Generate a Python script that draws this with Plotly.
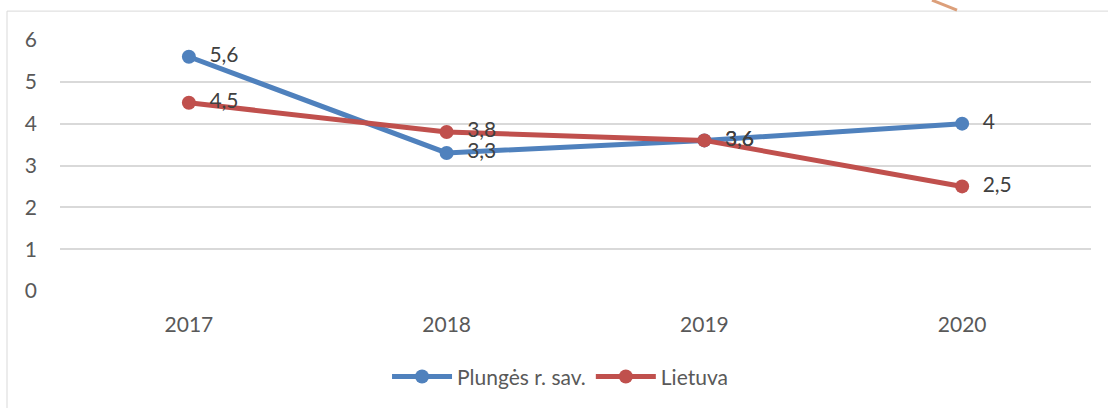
import plotly.graph_objects as go

years = ["2017", "2018", "2019", "2020"]
plunges = [5.6, 3.3, 3.6, 4.0]
lietuva = [4.5, 3.8, 3.6, 2.5]
series_names = ["Plungės r. sav.", "Lietuva"]
y_ticks = [0, 1, 2, 3, 4, 5, 6]

colors = ["#4F81BD", "#C0504D"]
FONT = "Lato"
FS = 21


def fmt(v):
    return f"{v:g}".replace(".", ",")


fig = go.Figure()
for name, vals, col in zip(series_names, [plunges, lietuva], colors):
    fig.add_trace(go.Scatter(
        x=years, y=vals, name=name, mode="lines+markers+text",
        line=dict(color=col, width=5),
        marker=dict(color=col, size=14),
        text=["  " + fmt(v) for v in vals],
        textposition="middle right",
        textfont=dict(family=FONT, size=FS, color="#404040"),
        cliponaxis=False,
    ))

fig.update_layout(
    width=1108, height=408,
    margin=dict(l=60, r=17, t=40, b=116),
    paper_bgcolor="white", plot_bgcolor="white",
    showlegend=True,
    legend=dict(orientation="h", x=0.485, xanchor="center", y=-0.337, yanchor="middle",
                font=dict(family=FONT, size=FS, color="#595959"),
                itemwidth=60, tracegroupgap=0, traceorder="normal"),
    font=dict(family=FONT, size=FS, color="#595959"),
)
fig.update_xaxes(type="category", range=[-0.5, 3.5], showgrid=False, showline=False,
                 ticks="", tickfont=dict(family=FONT, size=FS, color="#595959"),
                 ticklabelstandoff=19, zeroline=False)
fig.update_yaxes(range=[0, 6], tickvals=y_ticks, showgrid=True, gridcolor="#D9D9D9",
                 gridwidth=1.5, zeroline=False, showline=False, ticks="",
                 tickfont=dict(family=FONT, size=FS, color="#595959"),
                 ticklabelstandoff=22)

# outer chart frame
fig.add_shape(type="rect", xref="paper", yref="paper",
              x0=(7 - 60) / 1031, x1=(1112 - 60) / 1031,
              y0=(292 - 412) / 252, y1=(292 - 11) / 252,
              line=dict(color="#D9D9D9", width=1), layer="below")
# small stroke artifact at top
fig.add_shape(type="line", xref="paper", yref="paper",
              x0=(932 - 60) / 1031, x1=(957 - 60) / 1031,
              y0=(292 - 0) / 252, y1=(292 - 10) / 252,
              line=dict(color="#D4885A", width=3), opacity=0.8)

fig.write_html("out.html", config={"displayModeBar": False},
               post_script="document.body.style.margin='0';document.body.style.overflow='hidden';")
